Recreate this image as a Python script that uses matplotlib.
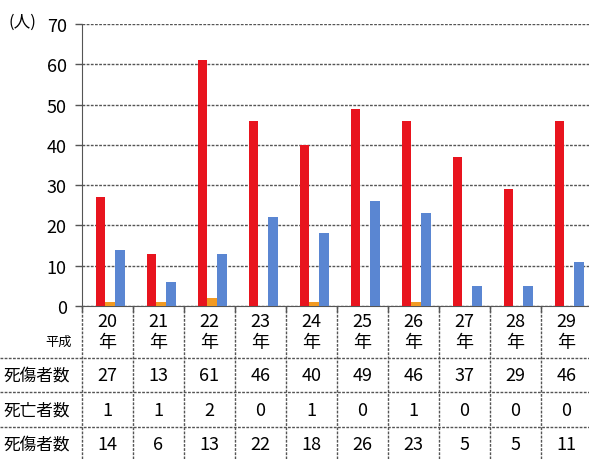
import matplotlib
matplotlib.use("Agg")
import matplotlib.pyplot as plt

plt.rcParams['font.family'] = ['Noto Sans CJK JP', 'DejaVu Sans']

years = ["20", "21", "22", "23", "24", "25", "26", "27", "28", "29"]
casualties = [27, 13, 61, 46, 40, 49, 46, 37, 29, 46]
deaths = [1, 1, 2, 0, 1, 0, 1, 0, 0, 0]
casualties2 = [14, 6, 13, 22, 18, 26, 23, 5, 5, 11]
row_labels = ["死傷者数", "死亡者数", "死傷者数"]
yticks = [0, 10, 20, 30, 40, 50, 60, 70]

red = "#E8141E"
orange = "#F29A22"
blue = "#5A86D2"
grid_c = "#555555"

W, H = 589, 460
fig = plt.figure(figsize=(W / 100, H / 100), dpi=100)
fig.patch.set_facecolor("white")

x0 = 82      # px left of first group
gw = 51      # px per group
ybot = 307   # px y of zero line (from top)
ytop = 25

ax = fig.add_axes([x0 / W, (H - ybot) / H, 10 * gw / W, (ybot - ytop) / H])
n = len(years)
centers = [i + 0.55 for i in range(n)]
bw = 0.19
ax.bar([c - bw for c in centers], casualties, width=bw, color=red, zorder=3)
ax.bar(centers, deaths, width=bw, color=orange, zorder=3)
ax.bar([c + bw for c in centers], casualties2, width=bw, color=blue, zorder=3)
ax.set_xlim(0, n)
ax.set_ylim(0, 70)
ax.set_yticks(yticks)
ax.set_yticklabels([str(t) for t in yticks], fontsize=13)
ax.set_xticks(range(n + 1))
ax.set_xticklabels([])
ax.tick_params(axis='y', length=5, width=1, color=grid_c, pad=6)
ax.tick_params(axis='x', length=4, width=1, color=grid_c)
for t in yticks:
    ax.axhline(t, color=grid_c, lw=1, ls=(0, (2, 1)), zorder=1)
for s in ["top", "right"]:
    ax.spines[s].set_visible(False)
ax.spines["left"].set_linestyle((0, (2, 1)))
ax.spines["left"].set_color(grid_c)
ax.spines["bottom"].set_linestyle((0, (2, 1)))
ax.spines["bottom"].set_color(grid_c)
ax.set_facecolor("none")

fig.text(9 / W, 1 - 22 / H, "(人)", fontsize=12, va="center", ha="left")

# table below
tax = fig.add_axes([0, 0, 1, (H - ybot) / H])
tax.set_xlim(-x0 / gw, (W - x0) / gw)
tax.set_ylim(H, ybot)
tax.axis("off")
ls = (0, (2, 1))
for i in range(n + 1):
    tax.plot([i, i], [ybot, H], color=grid_c, lw=1, ls=ls)
for yy in [359, 393, 428]:
    tax.plot([-x0 / gw, (W - x0) / gw], [yy, yy], color=grid_c, lw=1, ls=ls)

for i, y in enumerate(years):
    tax.text(i + 0.5, 322, y, ha="center", va="center", fontsize=13)
    tax.text(i + 0.5, 343, "年", ha="center", va="center", fontsize=13)
tax.text(72 / gw - x0 / gw, 342, "平成", ha="right", va="center", fontsize=9.5)

rows = [casualties, deaths, casualties2]
row_y = [376, 411, 445]
for r, vals in enumerate(rows):
    tax.text(70 / gw - x0 / gw, row_y[r], row_labels[r], ha="right", va="center", fontsize=12)
    for i, v in enumerate(vals):
        tax.text(i + 0.5, row_y[r], str(v), ha="center", va="center", fontsize=13)

fig.savefig("out.png", dpi=100)
